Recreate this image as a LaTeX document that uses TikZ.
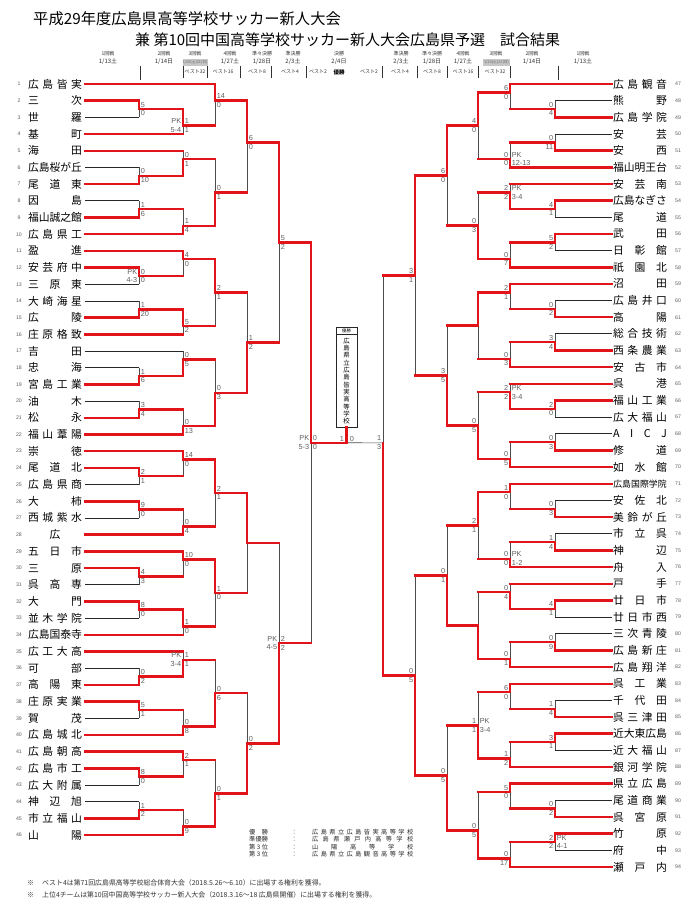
\documentclass[tikz,border=0pt]{standalone}
\usepackage{fontspec}
\setmainfont{Noto Sans CJK JP}
\newfontfamily\ar{Liberation Sans}
\definecolor{rd}{RGB}{226,20,26}
\definecolor{sg}{RGB}{95,95,95}
\makeatletter
\def\spA#1{#1\spB}
\def\spB#1{\ifx#1\@nil\else\hfill#1\expandafter\spB\fi}
\newcommand\nm[1]{\makebox[54pt][s]{\spA#1\@nil}}
\newcommand\spw[2]{\makebox[#1][s]{\spA#2\@nil}}
\makeatother
\tikzset{
 rl/.style={draw=rd,line width=2.5pt,line cap=rect},
 bl/.style={draw=black!85,line width=0.85pt},
 vl/.style={draw=black!70,line width=0.7pt},
 wv/.style={draw=rd,line width=2.5pt,line cap=rect},
 sc/.style={font=\ar\fontsize{7.3}{7.3}\selectfont,text=sg,inner sep=0pt},
 tn/.style={font=\fontsize{10.8}{10.8}\selectfont,inner sep=0pt,text height=9.4pt,text depth=1.3pt},
 num/.style={font=\ar\fontsize{5.2}{5.2}\selectfont,text=sg,inner sep=0pt},
 hr/.style={inner sep=0pt,text=black!80,font=\fontsize{5}{5}\selectfont},
 hdt/.style={inner sep=0pt,text=black!80,font=\fontsize{6}{6}\selectfont},
 hb/.style={inner sep=0pt,text=black!80,font=\fontsize{5}{5}\selectfont},
 gbox/.style={fill=black!22,inner sep=0pt,minimum height=7pt,text=black!60,font=\fontsize{3.8}{3.8}\selectfont},
 tickl/.style={draw=black!80,line width=0.6pt},
 res/.style={inner sep=0pt,anchor=west,text=black!85,font=\fontsize{6.2}{6.2}\selectfont},
 foot/.style={inner sep=0pt,anchor=west,text=black!80,font=\fontsize{6.9}{6.9}\selectfont},
}
% match: id, col, top source, bottom source, output y, winner (t/b), top style, bottom style
\newcommand\mt[8]{%
  \coordinate (#1x) at (#2,0);
  \coordinate (#1t) at (#3 -| #1x);
  \coordinate (#1b) at (#4 -| #1x);
  \coordinate (#1) at (#2,{#5});
  \draw[vl] (#1t) -- (#1b);
  \draw[#7] (#3) -- (#1t);
  \draw[#8] (#4) -- (#1b);
  \draw[wv] (#1#6) -- (#1);}
\newcommand\LM[8]{\mt{#1}{#2}{#3}{#4}{84+(#5-1)*16.69}{#6}{#7}{#8}}
\newcommand\RM[8]{\mt{#1}{#2}{#3}{#4}{84+(#5-1)*16.66}{#6}{#7}{#8}}
\newcommand\sL[3]{\node[sc,anchor=west] (#1s1) at ([xshift=1.6pt,yshift=4.4pt]#1) {#2};\node[sc,anchor=west] (#1s2) at ([xshift=1.6pt,yshift=-4.4pt]#1) {#3};}
\newcommand\sR[3]{\node[sc,anchor=east] (#1s1) at ([xshift=-1.6pt,yshift=4.4pt]#1) {#2};\node[sc,anchor=east] (#1s2) at ([xshift=-1.6pt,yshift=-4.4pt]#1) {#3};}
\newcommand\pL[2]{\node[sc,anchor=east] (#1p1) at ([xshift=-1.6pt,yshift=4.4pt]#1) {PK};\node[sc,anchor=east] (#1p2) at ([xshift=-1.6pt,yshift=-4.4pt]#1) {#2};}
\newcommand\pR[2]{\node[sc,anchor=west] (#1p1) at ([xshift=1.6pt,yshift=4.4pt]#1) {PK};\node[sc,anchor=west] (#1p2) at ([xshift=1.6pt,yshift=-4.4pt]#1) {#2};}
\newcommand\LT[2]{\coordinate (L#1) at (85,{84+(#1-1)*16.69});\node[tn] (LN#1) at (55,{84+(#1-1)*16.69}) {\nm{#2}};\node[num] (LI#1) at (19,{84+(#1-1)*16.69}) {#1};}
\newcommand\RT[2]{\coordinate (R#1) at (612,{84+(#1-47)*16.66});\node[tn] (RN#1) at (640,{84+(#1-47)*16.66}) {\nm{#2}};\node[num] (RI#1) at (678,{84+(#1-47)*16.66}) {#1};}
\begin{document}
\begin{tikzpicture}[x=1pt,y=-1pt]
\useasboundingbox (0,0) rectangle (700,918);
\fill[white] (0,0) rectangle (700,918);
% ---- title
\node[anchor=west,inner sep=0pt,font=\fontsize{15.3}{15.3}\selectfont] (title1) at (33,19) {平成29年度広島県高等学校サッカー新人大会};
\node[anchor=west,inner sep=0pt,font=\fontsize{15}{15}\selectfont] (title2) at (135,39.5) {兼 第10回中国高等学校サッカー新人大会広島県予選\hspace{1em}試合結果};
% ---- header
\node[hr] (h1a) at (108,54) {1回戦};   \node[hdt] (h1b) at (108,62) {1/13土};
\node[hr] (h2a) at (164,54) {2回戦};   \node[hdt] (h2b) at (164,62) {1/14日};
\node[hr] (h3a) at (195,54) {3回戦};   \node[gbox,minimum width=25pt] (h3b) at (195,62.5) {1/20(土)21(日)};
\node[hr] (h4a) at (230,54) {4回戦};   \node[hdt] (h4b) at (230,62) {1/27土};
\node[hr] (h5a) at (262,54) {準々決勝}; \node[hdt] (h5b) at (262,62) {1/28日};
\node[hr] (h6a) at (293,54) {準決勝};   \node[hdt] (h6b) at (293,62) {2/3土};
\node[hr] (h7a) at (339,54) {決勝};     \node[hdt] (h7b) at (339,62) {2/4日};
\node[hr] (h8a) at (401,54) {準決勝};   \node[hdt] (h8b) at (401,62) {2/3土};
\node[hr] (h9a) at (432,54) {準々決勝}; \node[hdt] (h9b) at (432,62) {1/28日};
\node[hr] (h10a) at (463,54) {4回戦};  \node[hdt] (h10b) at (463,62) {1/27土};
\node[hr] (h11a) at (496,54) {3回戦};  \node[gbox,minimum width=27pt] (h11b) at (496.5,62.5) {1/20(土)21(日)};
\node[hr] (h12a) at (532,54) {2回戦};  \node[hdt] (h12b) at (532,62) {1/14日};
\node[hr] (h13a) at (583,54) {1回戦};  \node[hdt] (h13b) at (583,62) {1/13土};
\node[hb] (b32L) at (195,72) {ベスト32};
\node[hb] (b16L) at (223,72) {ベスト16};
\node[hb] (b8L) at (257,72) {ベスト8};
\node[hb] (b4L) at (290,72) {ベスト4};
\node[hb] (b2L) at (318,72) {ベスト2};
\node[hb,font=\fontsize{5.5}{5.5}\selectfont\bfseries,text=black] (win) at (339,72) {優勝};
\node[hb] (b2R) at (369,72) {ベスト2};
\node[hb] (b4R) at (400,72) {ベスト4};
\node[hb] (b8R) at (432,72) {ベスト8};
\node[hb] (b16R) at (463,72) {ベスト16};
\node[hb] (b32R) at (495,72) {ベスト32};
\foreach \x in {183,207,240,271,306,382,417,447,478,510} \draw[tickl] (\x,66) -- (\x,78);
\foreach \x in {140,558} \draw[tickl] (\x,66) -- (\x,80);
% ---- left teams
\LT{1}{広島皆実}\LT{2}{三次}\LT{3}{世羅}\LT{4}{基町}\LT{5}{海田}\LT{6}{広島桜が丘}\LT{7}{尾道東}\LT{8}{因島}\LT{9}{福山誠之館}\LT{10}{広島県工}
\LT{11}{盈進}\LT{12}{安芸府中}\LT{13}{三原東}\LT{14}{大崎海星}\LT{15}{広陵}\LT{16}{庄原格致}\LT{17}{吉田}\LT{18}{忠海}\LT{19}{宮島工業}\LT{20}{油木}
\LT{21}{松永}\LT{22}{福山葦陽}\LT{23}{崇徳}\LT{24}{尾道北}\LT{25}{広島県商}\LT{26}{大柿}\LT{27}{西城紫水}
\coordinate (L28) at (85,{84+27*16.69});\node[tn] (LN28) at (55,{84+27*16.69}) {広};\node[num] (LI28) at (19,{84+27*16.69}) {28};
\LT{29}{五日市}\LT{30}{三原}
\LT{31}{呉高専}\LT{32}{大門}\LT{33}{並木学院}\LT{34}{広島国泰寺}\LT{35}{広工大高}\LT{36}{可部}\LT{37}{高陽東}\LT{38}{庄原実業}\LT{39}{賀茂}\LT{40}{広島城北}
\LT{41}{広島朝高}\LT{42}{広島市工}\LT{43}{広大附属}\LT{44}{神辺旭}\LT{45}{市立福山}\LT{46}{山陽}
% ---- right teams
\RT{47}{広島観音}\RT{48}{熊野}\RT{49}{広島学院}\RT{50}{安芸}\RT{51}{安西}\RT{52}{福山明王台}\RT{53}{安芸南}\RT{54}{広島なぎさ}\RT{55}{尾道}\RT{56}{武田}
\RT{57}{日彰館}\RT{58}{祇園北}\RT{59}{沼田}\RT{60}{広島井口}\RT{61}{高陽}\RT{62}{総合技術}\RT{63}{西条農業}\RT{64}{安古市}\RT{65}{呉港}\RT{66}{福山工業}
\RT{67}{広大福山}\RT{68}{AICJ}\RT{69}{修道}\RT{70}{如水館}
\coordinate (R71) at (612,{84+24*16.66});\node[tn,font=\fontsize{8.9}{8.9}\selectfont] (RN71) at (640,{84+24*16.66}) {広島国際学院};\node[num] (RI71) at (678,{84+24*16.66}) {71};
\RT{72}{安佐北}\RT{73}{美鈴が丘}\RT{74}{市立呉}\RT{75}{神辺}\RT{76}{舟入}
\RT{77}{戸手}\RT{78}{廿日市}\RT{79}{廿日市西}\RT{80}{三次青陵}\RT{81}{広島新庄}\RT{82}{広島翔洋}\RT{83}{呉工業}\RT{84}{千代田}\RT{85}{呉三津田}\RT{86}{近大東広島}
\RT{87}{近大福山}\RT{88}{銀河学院}\RT{89}{県立広島}\RT{90}{尾道商業}\RT{91}{呉宮原}\RT{92}{竹原}\RT{93}{府中}\RT{94}{瀬戸内}
% ---- left bracket
\LM{a1}{139}{L2}{L3}{2.5}{t}{rl}{bl}     \sL{a1}{5}{0}
\LM{a2}{139}{L6}{L7}{6.5}{b}{bl}{rl}     \sL{a2}{0}{10}
\LM{a3}{139}{L8}{L9}{8.5}{b}{bl}{rl}     \sL{a3}{1}{6}
\LM{a4}{139}{L12}{L13}{12.5}{t}{rl}{bl}  \sL{a4}{0}{0}\pL{a4}{4-3}
\LM{a5}{139}{L14}{L15}{14.5}{b}{bl}{rl}  \sL{a5}{1}{20}
\LM{a6}{139}{L18}{L19}{18.5}{b}{bl}{rl}  \sL{a6}{1}{6}
\LM{a7}{139}{L20}{L21}{20.5}{b}{bl}{rl}  \sL{a7}{3}{4}
\LM{a8}{139}{L24}{L25}{24.5}{t}{rl}{bl}  \sL{a8}{2}{1}
\LM{a9}{139}{L26}{L27}{26.5}{t}{rl}{bl}  \sL{a9}{9}{0}
\LM{a10}{139}{L30}{L31}{30.5}{t}{rl}{bl} \sL{a10}{4}{3}
\LM{a11}{139}{L32}{L33}{32.5}{t}{rl}{bl} \sL{a11}{8}{0}
\LM{a12}{139}{L36}{L37}{36.5}{b}{bl}{rl} \sL{a12}{0}{2}
\LM{a13}{139}{L38}{L39}{38.5}{t}{rl}{bl} \sL{a13}{5}{1}
\LM{a14}{139}{L42}{L43}{42.5}{t}{rl}{bl} \sL{a14}{8}{0}
\LM{a15}{139}{L44}{L45}{44.5}{b}{bl}{rl} \sL{a15}{1}{2}
\LM{b1}{183}{a1}{L4}{3.5}{t}{rl}{rl}     \sL{b1}{1}{1}\pL{b1}{5-4}
\LM{b2}{183}{L5}{a2}{5.5}{b}{rl}{rl}     \sL{b2}{0}{1}
\LM{b3}{183}{a3}{L10}{9.5}{b}{rl}{rl}    \sL{b3}{1}{4}
\LM{b4}{183}{L11}{a4}{11.5}{t}{rl}{rl}   \sL{b4}{4}{0}
\LM{b5}{183}{a5}{L16}{15.5}{t}{rl}{rl}   \sL{b5}{5}{2}
\LM{b6}{183}{L17}{a6}{17.5}{b}{bl}{rl}   \sL{b6}{0}{5}
\LM{b7}{183}{a7}{L22}{21.5}{b}{rl}{rl}   \sL{b7}{0}{13}
\LM{b8}{183}{L23}{a8}{23.5}{t}{rl}{rl}   \sL{b8}{14}{0}
\LM{b9}{183}{a9}{L28}{27.5}{b}{rl}{rl}   \sL{b9}{0}{4}
\LM{b10}{183}{L29}{a10}{29.5}{t}{rl}{rl} \sL{b10}{10}{0}
\LM{b11}{183}{a11}{L34}{33.5}{t}{rl}{rl} \sL{b11}{1}{0}
\LM{b12}{183}{L35}{a12}{35.5}{b}{rl}{rl} \sL{b12}{1}{1}\pL{b12}{3-4}
\LM{b13}{183}{a13}{L40}{39.5}{b}{rl}{rl} \sL{b13}{0}{8}
\LM{b14}{183}{L41}{a14}{41.5}{t}{rl}{rl} \sL{b14}{2}{1}
\LM{b15}{183}{a15}{L46}{45.5}{b}{rl}{rl} \sL{b15}{0}{9}
\LM{c1}{215}{L1}{b1}{2}{t}{rl}{rl}       \sL{c1}{14}{0}
\LM{c2}{215}{b2}{b3}{7.5}{b}{rl}{rl}     \sL{c2}{0}{1}
\LM{c3}{215}{b4}{b5}{13.5}{t}{rl}{rl}    \sL{c3}{2}{1}
\LM{c4}{215}{b6}{b7}{19.5}{b}{rl}{rl}    \sL{c4}{0}{3}
\LM{c5}{215}{b8}{b9}{25.5}{t}{rl}{rl}    \sL{c5}{2}{1}
\LM{c6}{215}{b10}{b11}{31.5}{t}{rl}{rl}  \sL{c6}{1}{0}
\LM{c7}{215}{b12}{b13}{37.5}{b}{rl}{rl}  \sL{c7}{0}{6}
\LM{c8}{215}{b14}{b15}{43.5}{b}{rl}{rl}  \sL{c8}{0}{1}
\LM{d1}{247}{c1}{c2}{4.5}{t}{rl}{rl}     \sL{d1}{6}{0}
\LM{d2}{247}{c3}{c4}{16.5}{b}{rl}{rl}    \sL{d2}{1}{2}
\LM{d3}{247}{c5}{c6}{28.5}{t}{rl}{rl}
\LM{d4}{247}{c7}{c8}{40.5}{b}{rl}{rl}    \sL{d4}{0}{2}
\LM{e1}{279}{d1}{d2}{10.5}{t}{rl}{rl}    \sL{e1}{5}{2}
\LM{e2}{279}{d3}{d4}{34.5}{b}{rl}{rl}    \sL{e2}{2}{2}\pL{e2}{4-5}
\LM{f1}{311}{e1}{e2}{22.5}{t}{rl}{rl}    \sL{f1}{0}{0}\pL{f1}{5-3}
% ---- right bracket
\RM{g1}{555}{R48}{R49}{2.5}{b}{bl}{rl}   \sR{g1}{0}{4}
\RM{g2}{555}{R50}{R51}{4.5}{b}{bl}{rl}   \sR{g2}{0}{11}
\RM{g3}{555}{R54}{R55}{8.5}{t}{rl}{bl}   \sR{g3}{4}{1}
\RM{g4}{555}{R56}{R57}{10.5}{t}{rl}{bl}  \sR{g4}{5}{2}
\RM{g5}{555}{R60}{R61}{14.5}{b}{bl}{rl}  \sR{g5}{0}{2}
\RM{g6}{555}{R62}{R63}{16.5}{b}{bl}{rl}  \sR{g6}{3}{4}
\RM{g7}{555}{R66}{R67}{20.5}{t}{rl}{bl}  \sR{g7}{2}{0}
\RM{g8}{555}{R68}{R69}{22.5}{b}{bl}{rl}  \sR{g8}{0}{3}
\RM{g9}{555}{R72}{R73}{26.5}{b}{bl}{rl}  \sR{g9}{0}{3}
\RM{g10}{555}{R74}{R75}{28.5}{b}{bl}{rl} \sR{g10}{1}{4}
\RM{g11}{555}{R78}{R79}{32.5}{t}{rl}{bl} \sR{g11}{4}{1}
\RM{g12}{555}{R80}{R81}{34.5}{b}{bl}{rl} \sR{g12}{0}{9}
\RM{g13}{555}{R84}{R85}{38.5}{b}{bl}{rl} \sR{g13}{1}{4}
\RM{g14}{555}{R86}{R87}{40.5}{t}{rl}{bl} \sR{g14}{3}{1}
\RM{g15}{555}{R90}{R91}{44.5}{b}{bl}{rl} \sR{g15}{0}{2}
\RM{g16}{555}{R92}{R93}{46.5}{t}{rl}{bl} \sR{g16}{2}{2}\pR{g16}{4-1}
\RM{h1}{510}{R47}{g1}{1.5}{t}{rl}{rl}    \sR{h1}{6}{0}
\RM{h2}{510}{g2}{R52}{5.5}{b}{rl}{rl}    \sR{h2}{0}{0}\pR{h2}{12-13}
\RM{h3}{510}{R53}{g3}{7.5}{b}{rl}{rl}    \sR{h3}{2}{2}\pR{h3}{3-4}
\RM{h4}{510}{g4}{R58}{11.5}{b}{rl}{rl}   \sR{h4}{0}{7}
\RM{h5}{510}{R59}{g5}{13.5}{t}{rl}{rl}   \sR{h5}{2}{1}
\RM{h6}{510}{g6}{R64}{17.5}{b}{rl}{rl}   \sR{h6}{0}{3}
\RM{h7}{510}{R65}{g7}{19.5}{b}{rl}{rl}   \sR{h7}{2}{2}\pR{h7}{3-4}
\RM{h8}{510}{g8}{R70}{23.5}{b}{rl}{rl}   \sR{h8}{0}{5}
\RM{h9}{510}{R71}{g9}{25.5}{t}{rl}{rl}   \sR{h9}{1}{0}
\RM{h10}{510}{g10}{R76}{29.5}{b}{rl}{rl} \sR{h10}{0}{0}\pR{h10}{1-2}
\RM{h11}{510}{R77}{g11}{31.5}{b}{rl}{rl} \sR{h11}{0}{4}
\RM{h12}{510}{g12}{R82}{35.5}{b}{rl}{rl} \sR{h12}{0}{1}
\RM{h13}{510}{R83}{g13}{37.5}{t}{rl}{rl} \sR{h13}{6}{0}
\RM{h14}{510}{g14}{R88}{41.5}{b}{rl}{rl} \sR{h14}{1}{2}
\RM{h15}{510}{R89}{g15}{43.5}{t}{rl}{rl} \sR{h15}{5}{0}
\RM{h16}{510}{g16}{R94}{47.5}{b}{rl}{rl} \sR{h16}{0}{17}
\RM{i1}{478}{h1}{h2}{3.5}{t}{rl}{rl}     \sR{i1}{4}{0}
\RM{i2}{478}{h3}{h4}{9.5}{b}{rl}{rl}     \sR{i2}{0}{3}
\RM{i3}{478}{h5}{h6}{15.5}{t}{rl}{rl}
\RM{i4}{478}{h7}{h8}{21.5}{b}{rl}{rl}    \sR{i4}{0}{5}
\RM{i5}{478}{h9}{h10}{27.5}{t}{rl}{rl}   \sR{i5}{2}{1}
\RM{i6}{478}{h11}{h12}{33.5}{b}{rl}{rl}
\RM{i7}{478}{h13}{h14}{39.5}{b}{rl}{rl}  \sR{i7}{1}{1}\pR{i7}{3-4}
\RM{i8}{478}{h15}{h16}{45.8}{b}{rl}{rl}  \sR{i8}{0}{5}
\RM{j1}{447}{i1}{i2}{6.5}{t}{rl}{rl}     \sR{j1}{6}{0}
\RM{j2}{447}{i3}{i4}{18.5}{b}{rl}{rl}    \sR{j2}{3}{5}
\RM{j3}{447}{i5}{i6}{30.5}{b}{rl}{rl}    \sR{j3}{0}{1}
\RM{j4}{447}{i7}{i8}{42.5}{b}{rl}{rl}    \sR{j4}{0}{5}
\RM{k1}{415}{j1}{j2}{12.5}{t}{rl}{rl}    \sR{k1}{3}{1}
\RM{k2}{415}{j3}{j4}{36.5}{b}{rl}{rl}    \sR{k2}{0}{5}
\RM{l1}{383}{k1}{k2}{22.54}{b}{rl}{rl}   \sR{l1}{1}{3}
% ---- final and champion box
\node[draw=black!85,line width=0.6pt,minimum width=21pt,minimum height=100pt,inner sep=0pt] (wbox) at (346.5,377) {};
\coordinate (wbl) at (336,334); \coordinate (wbr) at (357,334);
\draw[black!85,line width=0.5pt] (wbl) -- (wbr);
\node[inner sep=0pt,font=\fontsize{4.3}{4.3}\selectfont] (wbt) at (346.5,330.5) {優勝};
\node[inner sep=0pt,align=center,font=\fontsize{6.4}{7.35}\selectfont] (wname) at (346.5,381) {広\\島\\県\\立\\広\\島\\皆\\実\\高\\等\\学\\校};
\coordinate (F) at (346.5,{84+21.5*16.69});
\draw[vl] (l1) -- (F);
\draw[wv] (f1) -- (F);
\draw[wv] (F) -- (wbox.south);
\node[sc] (fsL) at (342,438.5) {1};
\node[sc] (fsR) at (352,438.5) {0};
% ---- results list
\node[res] (ra1) at (249,832) {\spw{19pt}{優勝}};   \node[res] (rb1) at (291,832) {：}; \node[res] (rc1) at (312,832) {\spw{101pt}{広島県立広島皆実高等学校}};
\node[res] (ra2) at (249,839.5) {\spw{19pt}{準優勝}}; \node[res] (rb2) at (291,839.5) {：}; \node[res] (rc2) at (312,839.5) {\spw{101pt}{広島県瀬戸内高等学校}};
\node[res] (ra3) at (249,847) {\spw{19pt}{第3位}};  \node[res] (rb3) at (291,847) {：}; \node[res] (rc3) at (312,847) {\spw{101pt}{山陽高等学校}};
\node[res] (ra4) at (249,854.5) {\spw{19pt}{第3位}}; \node[res] (rb4) at (291,854.5) {：}; \node[res] (rc4) at (312,854.5) {\spw{101pt}{広島県立広島観音高等学校}};
% ---- footnotes
\node[foot] (fk1) at (27,883) {※};
\node[foot] (fn1) at (42,883) {ベスト4は第71回広島県高等学校総合体育大会（2018.5.26～6.10）に出場する権利を獲得。};
\node[foot] (fk2) at (27,895) {※};
\node[foot] (fn2) at (42,895) {上位4チームは第10回中国高等学校サッカー新人大会（2018.3.16～18 広島県開催）に出場する権利を獲得。};
\end{tikzpicture}
\end{document}
